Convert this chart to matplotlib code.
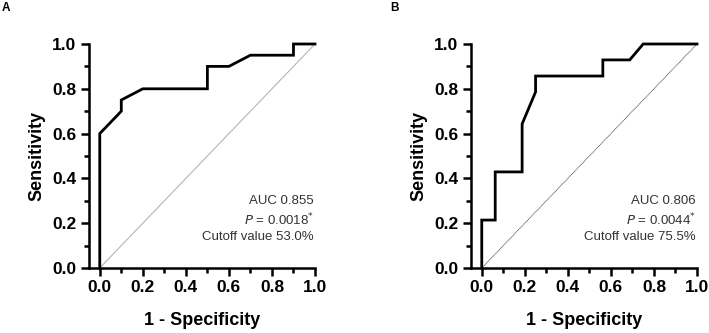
import matplotlib
matplotlib.use("Agg")
import matplotlib.pyplot as plt
from matplotlib.ticker import MultipleLocator

plt.rcParams['font.family'] = ['Liberation Sans', 'DejaVu Sans']

# Panel A ROC data
a_fpr = [0.0, 0.0, 0.1, 0.1, 0.2, 0.5, 0.5, 0.6, 0.7, 0.9, 0.9, 1.0]
a_tpr = [0.0, 0.6, 0.7, 0.75, 0.8, 0.8, 0.9, 0.9, 0.95, 0.95, 1.0, 1.0]
a_text = ["AUC 0.855", "0.0018", "Cutoff value 53.0%"]

# Panel B ROC data
b_fpr = [0.0, 0.0, 0.0625, 0.0625, 0.1875, 0.1875, 0.25, 0.25, 0.5625, 0.5625, 0.6875, 0.75, 1.0]
b_tpr = [0.0, 0.214, 0.214, 0.429, 0.429, 0.643, 0.786, 0.857, 0.857, 0.929, 0.929, 1.0, 1.0]
b_text = ["AUC 0.806", "0.0044", "Cutoff value 75.5%"]

ticks = [0.0, 0.2, 0.4, 0.6, 0.8, 1.0]

W, H = 709, 333
fig = plt.figure(figsize=(W / 100, H / 100), dpi=100)

def px(x0, y0, x1, y1):
    return [x0 / W, 1 - y1 / H, (x1 - x0) / W, (y1 - y0) / H]

panels = [
    (px(89, 44, 315, 268), a_fpr, a_tpr, a_text, dict(color='#b5b5b5', lw=0.8, ls='-'), "A", 2),
    (px(471, 44, 697, 268), b_fpr, b_tpr, b_text, dict(color='#555555', lw=0.7, ls=(0, (1, 0.6))), "B", 390),
]

for rect, fpr, tpr, txt, dstyle, lab, labx in panels:
    ax = fig.add_axes(rect)
    ax.plot([0, 1], [0, 1], **dstyle, zorder=1)
    ax.plot(fpr, tpr, color='black', lw=2.0, solid_joinstyle='miter', zorder=3, clip_on=False)
    ax.set_xlim(-0.05, 1.0)
    ax.set_ylim(0, 1.0)
    ax.set_xticks(ticks)
    ax.set_yticks(ticks)
    ax.set_xticklabels([f"{t:.1f}" for t in ticks])
    ax.set_yticklabels([f"{t:.1f}" for t in ticks])
    ax.xaxis.set_minor_locator(MultipleLocator(0.1))
    ax.yaxis.set_minor_locator(MultipleLocator(0.1))
    for s in ['top', 'right']:
        ax.spines[s].set_visible(False)
    for s in ['left', 'bottom']:
        ax.spines[s].set_linewidth(1.8)
    ax.tick_params(which='major', direction='out', length=6, width=1.8, labelsize=12.5, pad=3)
    ax.tick_params(which='minor', direction='out', length=3.5, width=1.8)
    for t in ax.get_xticklabels() + ax.get_yticklabels():
        t.set_fontweight('bold')
    ax.set_xlabel("1 - Specificity", fontsize=13, fontweight='bold', labelpad=12)
    ax.set_ylabel("Sensitivity", fontsize=13, fontweight='bold', labelpad=5)
    ax.text(0.995, 0.30, txt[0], ha='right', va='center', fontsize=9.5, color='#333333')
    ax.text(0.995, 0.215, r"$\it{P}$ = " + txt[1] + r"$^{*}$", ha='right', va='center', fontsize=9.5, color='#333333')
    ax.text(0.995, 0.14, txt[2], ha='right', va='center', fontsize=9.5, color='#333333')
    fig.text(labx / W, 1 - 8 / H, lab, fontsize=8.5, fontweight='bold', ha='left', va='center')

fig.savefig("out.png", dpi=100, facecolor='white')
